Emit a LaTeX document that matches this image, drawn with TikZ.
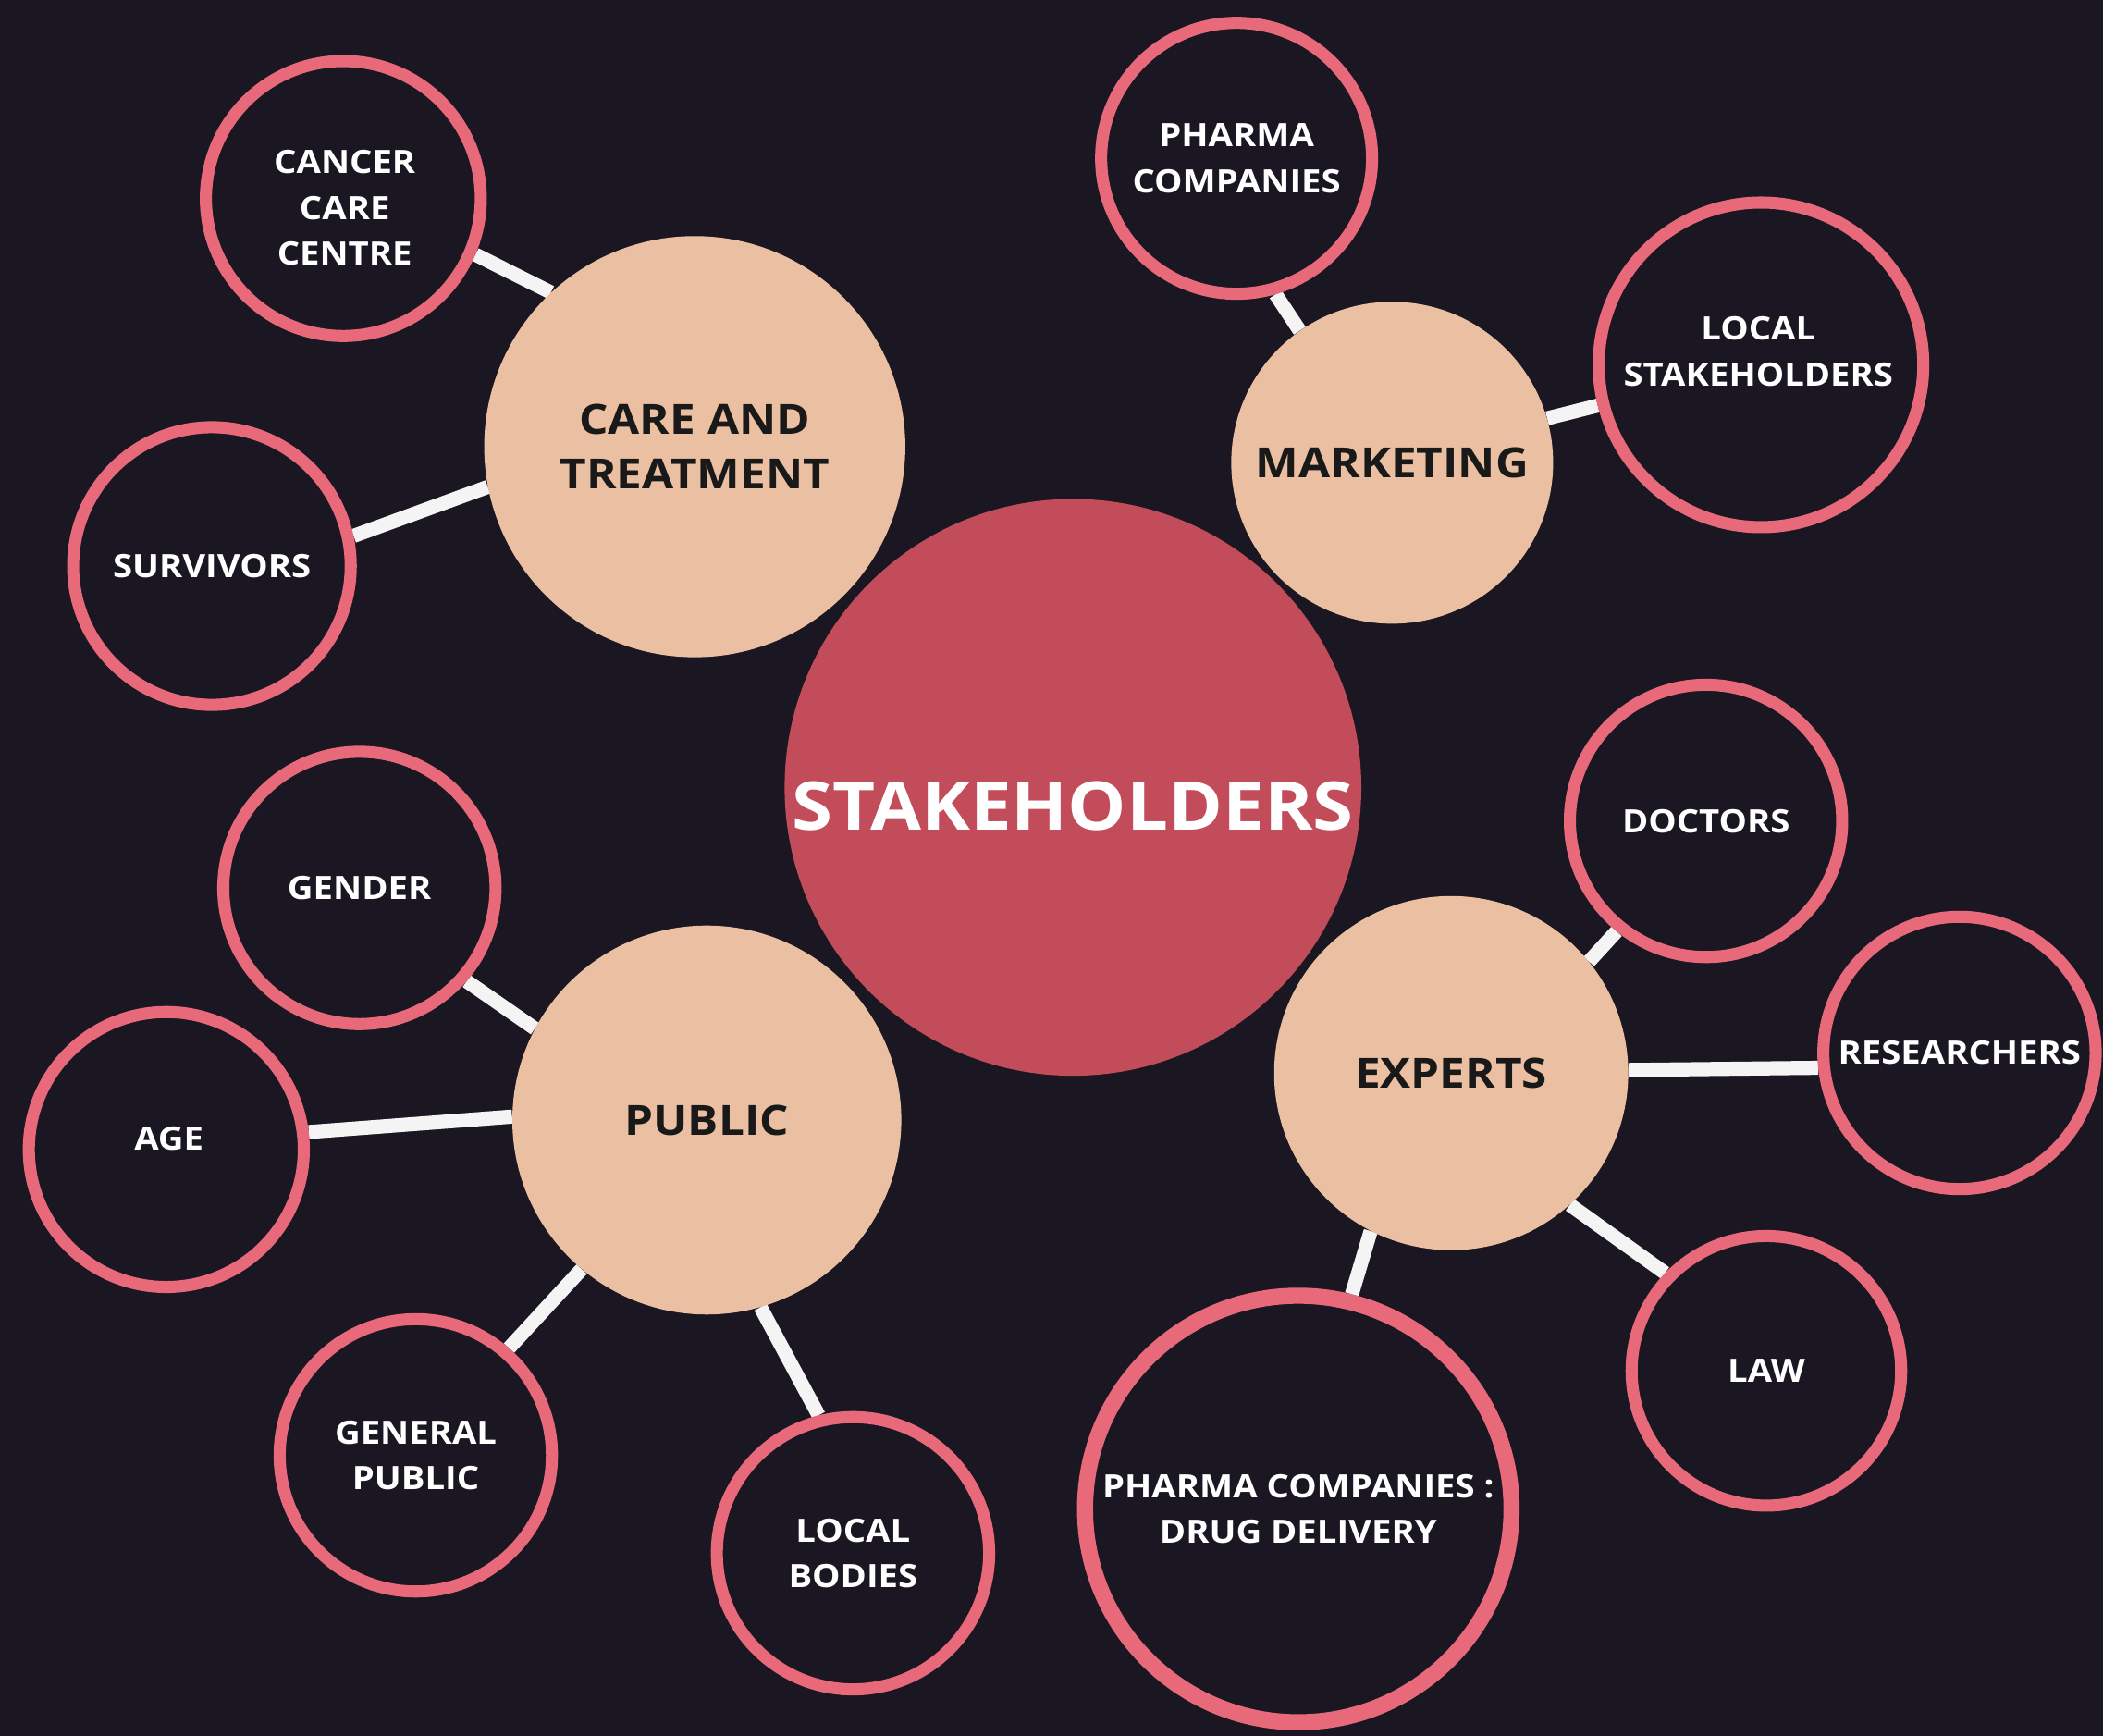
\documentclass[tikz,border=0pt]{standalone}
\usepackage{fontspec}
\setmainfont{Open Sans}[FakeStretch=1.1]
\definecolor{bgdark}{HTML}{1A1722}
\definecolor{ringpink}{HTML}{E86A7A}
\definecolor{peach}{HTML}{EBBFA2}
\definecolor{corered}{HTML}{C24C59}
\definecolor{linkwhite}{HTML}{F4F4F4}
\pgfdeclarelayer{bg}
\pgfsetlayers{bg,main}
\tikzset{
  ringtext/.style={text=white, font=\fontsize{24}{34}\selectfont\bfseries, align=center, inner sep=0pt},
  ring/.style={circle, draw=ringpink, line width=9pt, fill=bgdark, ringtext},
  hub/.style={circle, fill=peach, text=black!90,
    font=\fontsize{31}{41}\selectfont\bfseries, align=center, inner sep=0pt},
  core/.style={circle, fill=corered, inner sep=0pt},
  coretext/.style={text=white, font=\fontsize{50}{60}\selectfont\bfseries, inner sep=0pt},
  link/.style={line width=10.5pt, draw=linkwhite}
}
\begin{document}
\begin{tikzpicture}[x=1pt, y=-1pt]
\useasboundingbox (0,0) rectangle (1568,1294);
\begin{pgfonlayer}{bg}
\fill[bgdark] (0,0) rectangle (1568,1294);
\end{pgfonlayer}

% core
\node[core, minimum size=430pt] (stake) at (800,587) {};
\node[coretext] (staketext) at (800,601) {STAKEHOLDERS};

% hubs
\node[hub, minimum size=314pt] (care) at (518,333) {CARE AND\\TREATMENT};
\node[hub, minimum size=240pt] (mkt) at (1038,345) {MARKETING};
\node[hub, minimum size=290pt] (pub) at (527,835) {PUBLIC};
\node[hub, minimum size=264pt] (exp) at (1082,800) {EXPERTS};

% rings
\node[ring, minimum size=205pt] (ccc) at (256,148) {};
\node[ringtext] (ccctext) at (257,155) {CANCER\\CARE\\CENTRE};
\node[ring, minimum size=207pt] (surv) at (158,422) {SURVIVORS};
\node[ring, minimum size=202pt] (pharma) at (922,118) {PHARMA\\COMPANIES};
\node[ring, minimum size=242pt] (locstk) at (1313,272) {};
\node[ringtext] (locstktext) at (1311,262) {LOCAL\\STAKEHOLDERS};
\node[ring, minimum size=203pt] (gender) at (268,662) {GENDER};
\node[ring, minimum size=205pt] (age) at (124,857) {};
\node[ringtext] (agetext) at (126,849) {AGE};
\node[ring, minimum size=203pt] (genpub) at (310,1085) {GENERAL\\PUBLIC};
\node[ring, minimum size=203pt] (locbod) at (636,1158) {LOCAL\\BODIES};
\node[ring, minimum size=203pt] (doc) at (1272,612) {DOCTORS};
\node[ring, minimum size=203pt] (res) at (1461,785) {RESEARCHERS};
\node[ring, minimum size=201pt] (law) at (1317,1022) {LAW};
\node[ring, line width=12pt, minimum size=318pt] (drug) at (968,1125) {PHARMA COMPANIES :\\DRUG DELIVERY};

% connectors
\begin{pgfonlayer}{bg}
\draw[link] (ccc.-23) -- (care.133);
\draw[link] (surv.12) -- (care.191);
\draw[link] (pharma.-74) -- (mkt.125);
\draw[link] (locstk.194) -- (mkt.16);
\draw[link] (gender.-41) -- (pub.152);
\draw[link] (age.7) -- (pub.179);
\draw[link] (genpub.49) -- (pub.230);
\draw[link] (locbod.104) -- (pub.-74);
\draw[link] (doc.231) -- (exp.39);
\draw[link] (res.186) -- (exp.1);
\draw[link] (law.136) -- (exp.-48);
\draw[link] (drug.76) -- (exp.-117);
\end{pgfonlayer}
\end{tikzpicture}
\end{document}
